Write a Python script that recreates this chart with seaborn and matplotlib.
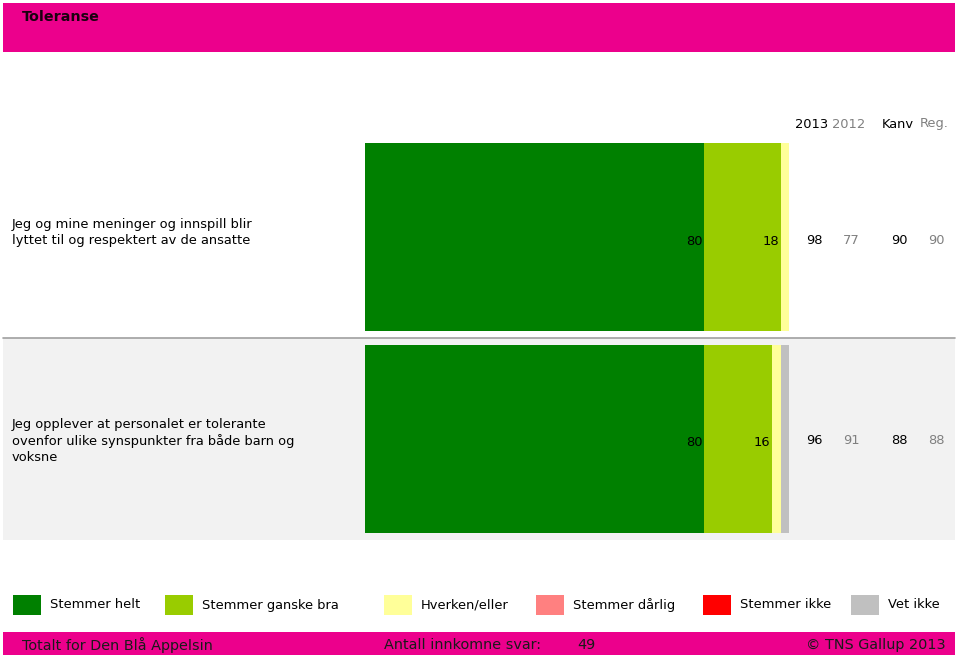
import matplotlib
matplotlib.use("Agg")
import matplotlib.pyplot as plt
import matplotlib.patches as mpatches
import seaborn as sns
import pandas as pd
import numpy as np

sns.set_theme(style="white")
plt.rcParams['font.family'] = ['DejaVu Sans']

# ---- data ----
questions = [
    "Jeg og mine meninger og innspill blir\nlyttet til og respektert av de ansatte",
    "Jeg opplever at personalet er tolerante\novenfor ulike synspunkter fra både barn og\nvoksne",
]
categories = ["Stemmer helt", "Stemmer ganske bra", "Hverken/eller",
              "Stemmer dårlig", "Stemmer ikke", "Vet ikke"]
colors = ["#008000", "#99CC00", "#FFFF99", "#FF8080", "#FF0000", "#C0C0C0"]
stemmer_helt = [80, 80]
stemmer_ganske_bra = [18, 16]
hverken_eller = [2, 2]
stemmer_darlig = [0, 0]
stemmer_ikke = [0, 0]
vet_ikke = [0, 2]
shown_labels = [[80, 18], [80, 16]]
col_headers = ["2013", "2012", "Kanv", "Reg."]
v2013 = [98, 96]
v2012 = [77, 91]
kanv = [90, 88]
reg = [90, 88]
header_title = "Toleranse"
footer_left = "Totalt for Den Blå Appelsin"
footer_mid = "Antall innkomne svar:"
n_answers = 49
footer_right = "© TNS Gallup 2013"

series = [stemmer_helt, stemmer_ganske_bra, hverken_eller,
          stemmer_darlig, stemmer_ikke, vet_ikke]

W, H = 959, 655
fig = plt.figure(figsize=(W / 100, H / 100), dpi=100)
fig.patch.set_facecolor("white")

# background axes in pixel coordinates
bg = fig.add_axes([0, 0, 1, 1])
bg.set_xlim(0, W)
bg.set_ylim(H, 0)
bg.axis("off")

PINK = "#EC008C"
FS = 9.4
# header band
bg.add_patch(mpatches.Rectangle((3, 3), 952, 49, color=PINK, lw=0))
bg.text(22, 17, header_title, fontsize=10.3, fontweight="bold", va="center", ha="left", color="#1a0010")

# row 2 background + separator
bg.add_patch(mpatches.Rectangle((3, 338), 952, 202, color="#F2F2F2", lw=0))
bg.plot([3, 955], [337.5, 337.5], color="#A0A0A0", lw=1.2)

# column headers
col_x = [812, 849, 897.5, 934.5]
col_colors = ["black", "#808080", "black", "#808080"]
for x, t, c in zip(col_x, col_headers, col_colors):
    bg.text(x, 124, t, fontsize=FS, ha="center", va="center", color=c)

row_val_y = [241, 441]
row_label_top = [218, 418]
for i, q in enumerate(questions):
    bg.text(12, row_label_top[i], q, fontsize=FS, ha="left", va="top",
            color="black", linespacing=1.27)
    for x, vals, c in zip(col_x, [v2013, v2012, kanv, reg], col_colors):
        bg.text(x + 2, row_val_y[i], str(vals[i]), fontsize=FS, ha="center", va="center", color=c)

# legend
leg_sq_x = [13, 165, 384, 536, 703, 851]
for x, lab, c in zip(leg_sq_x, categories, colors):
    bg.add_patch(mpatches.Rectangle((x, 595), 28, 20, color=c, lw=0))
    bg.text(x + 37, 605, lab, fontsize=FS, ha="left", va="center", color="black")

# footer band
bg.add_patch(mpatches.Rectangle((3, 632), 952, 23, color=PINK, lw=0))
FFS = 10.4
bg.text(22, 645, footer_left, fontsize=FFS, ha="left", va="center", color="#1a1a1a")
bg.text(384, 645, footer_mid, fontsize=FFS, ha="left", va="center", color="#1a1a1a")
bg.text(577, 645, str(n_answers), fontsize=FFS, ha="left", va="center", color="#1a1a1a")
bg.text(946, 645, footer_right, fontsize=FFS, ha="right", va="center", color="#1a1a1a")

# bar axes
x0, x1 = 365, 789
yc1, yc2 = 237, 438.5
pitch = yc2 - yc1
ytop = yc1 - pitch / 2
ybot = yc2 + pitch / 2
ax = fig.add_axes([x0 / W, (H - ybot) / H, (x1 - x0) / W, (ybot - ytop) / H])
ax.patch.set_alpha(0)

cum = np.cumsum(np.array(series, dtype=float), axis=0)
rows = []
for k, cat in enumerate(categories):
    for i, q in enumerate(questions):
        rows.append({"question": q, "category": cat, "cum": cum[k, i]})
df = pd.DataFrame(rows)
bar_w = 188 / pitch
for k in range(len(categories) - 1, -1, -1):
    sub = df[df["category"] == categories[k]]
    sns.barplot(data=sub, x="cum", y="question", orient="h", color=colors[k],
                saturation=1, width=bar_w, ax=ax, errorbar=None, linewidth=0)
ax.set_xlim(0, 100)
ax.set_ylim(1.5, -0.5)
ax.axis("off")

# in-bar labels at segment ends
for i in range(len(questions)):
    for k, val in enumerate(shown_labels[i]):
        ax.text(cum[k, i] - 0.35, i + 0.02, str(val), fontsize=FS, ha="right", va="center", color="black")

fig.savefig("out.png", dpi=100)
